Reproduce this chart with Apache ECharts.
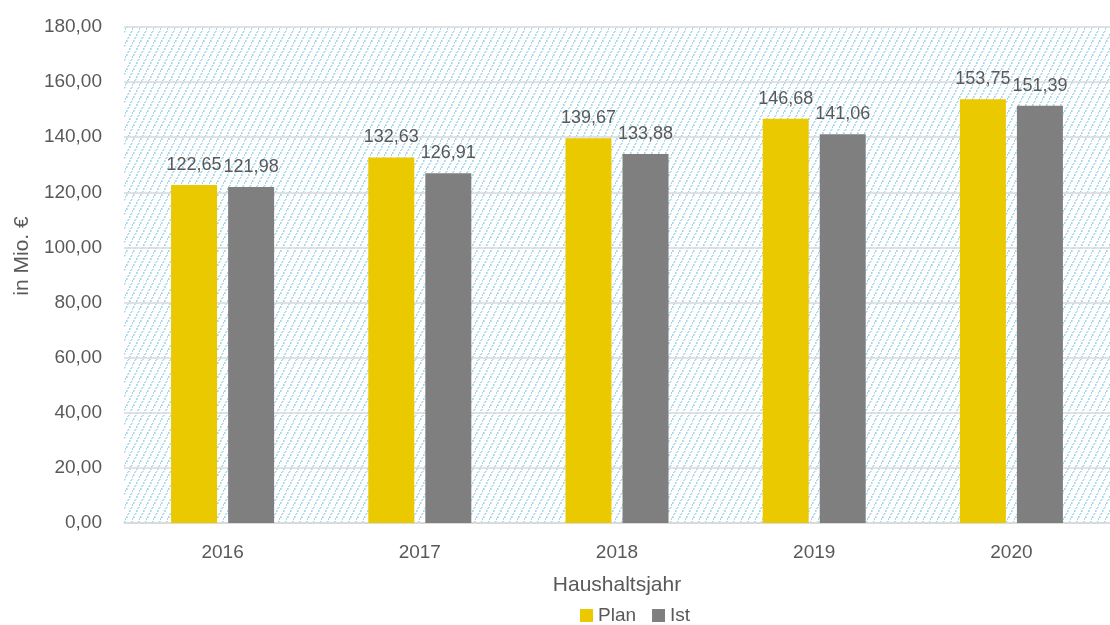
<!DOCTYPE html>
<html>
<head>
<meta charset="utf-8">
<script src="https://cdn.jsdelivr.net/npm/echarts@6/dist/echarts.min.js"></script>
<style>
  html, body {margin: 0; padding: 0; background: #fff;}
  #chart {width: 1110px; height: 625px;}
</style>
</head>
<body>
<div id="chart"></div>
<script>
var years = ['2016', '2017', '2018', '2019', '2020'];
var planValues = [122.65, 132.63, 139.67, 146.68, 153.75];
var istValues = [121.98, 126.91, 133.88, 141.06, 151.39];

var FONT = '"Liberation Sans", Arial, sans-serif';
var TEXT = '#595959';

// hatched background for the plot area (dotted diagonal lines)
function makeHatch() {
  var c = document.createElement('canvas');
  c.width = 7; c.height = 14;
  var ctx = c.getContext('2d');
  ctx.fillStyle = '#a3d7e9';
  for (var y = 0; y < 14; y++) {
    if (y % 3 === 2) continue;
    var x = (13 - y) / 2;
    ctx.fillRect(Math.floor(x), y, 1.6, 1);
  }
  return c;
}

function fmt(v) {
  return v.toFixed(2).replace('.', ',');
}

var myChart = echarts.init(document.getElementById('chart'));
myChart.setOption({
  animation: false,
  textStyle: {fontFamily: FONT},
  grid: {
    left: 124, right: -1, top: 27, bottom: 102,
    show: true,
    borderWidth: 0,
    backgroundColor: {image: makeHatch(), repeat: 'repeat'}
  },
  graphic: [{
    type: 'text',
    x: 22,
    y: 256,
    rotation: Math.PI / 2,
    style: {
      text: 'in Mio. €',
      fill: TEXT,
      font: '21px ' + FONT,
      align: 'center',
      verticalAlign: 'middle'
    }
  }],
  legend: {
    bottom: -5,
    left: 575,
    itemWidth: 13,
    itemHeight: 13,
    itemGap: 16,
    icon: 'rect',
    textStyle: {fontSize: 19, color: TEXT, fontFamily: FONT},
    data: ['Plan', 'Ist']
  },
  xAxis: {
    type: 'category',
    data: years,
    name: 'Haushaltsjahr',
    nameLocation: 'middle',
    nameGap: 52,
    nameTextStyle: {fontSize: 21, color: TEXT, fontFamily: FONT},
    axisTick: {show: false},
    axisLine: {lineStyle: {color: '#d9d9d9', width: 1.5}},
    axisLabel: {fontSize: 19, color: TEXT, margin: 20, fontFamily: FONT}
  },
  yAxis: {
    type: 'value',
    min: 0,
    max: 180,
    interval: 20,
    axisLine: {show: false},
    axisTick: {show: false},
    axisLabel: {
      fontSize: 19, color: TEXT, margin: 22, fontFamily: FONT,
      formatter: function (v) { return fmt(v); }
    },
    splitLine: {lineStyle: {color: '#d9d9d9', width: 1.5}}
  },
  series: [{
    name: 'Plan',
    type: 'bar',
    data: planValues,
    barWidth: 46,
    barGap: '24%',
    itemStyle: {color: '#EAC900'},
    label: {
      show: true, position: 'top', distance: 11,
      fontSize: 18, color: TEXT, fontFamily: FONT,
      formatter: function (p) { return fmt(p.value); }
    }
  }, {
    name: 'Ist',
    type: 'bar',
    data: istValues,
    barWidth: 46,
    itemStyle: {color: '#7F7F7F'},
    label: {
      show: true, position: 'top', distance: 11,
      fontSize: 18, color: TEXT, fontFamily: FONT,
      formatter: function (p) { return fmt(p.value); }
    }
  }]
});
</script>
</body>
</html>
